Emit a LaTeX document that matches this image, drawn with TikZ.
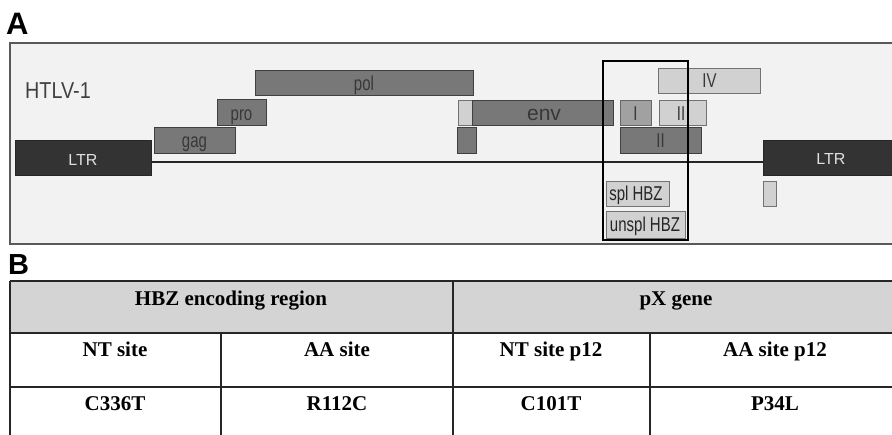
\documentclass[tikz,border=0pt]{standalone}
\usepackage{fontspec}
\setmainfont{Liberation Serif}
\setsansfont{Liberation Sans}
\newfontfamily\etroite[FakeStretch=0.75]{Liberation Sans}
\newfontfamily\moinsetroite[FakeStretch=0.86]{Liberation Sans}
\begin{document}
\begin{tikzpicture}[x=1pt,y=-1pt,
    fonce/.style={draw=black!85, fill=black!80, line width=1pt},
    moyen/.style={draw=black!75, fill=black!53, line width=1pt},
    clair/.style={draw=black!60, fill=black!37, line width=1pt},
    pale/.style={draw=black!55, fill=black!18, line width=1pt},
    etiq/.style={font=\etroite\fontsize{20}{20}\selectfont, text=black!78, inner sep=0pt, anchor=base},
    ltr/.style={font=\sffamily\fontsize{16}{16}\selectfont, text=black!12, inner sep=0pt, anchor=base},
    trait/.style={black!85, line width=1.4pt},
    tabtxt/.style={font=\bfseries\fontsize{21}{21}\selectfont, inner sep=0pt, anchor=base}]
    \useasboundingbox (0,0) rectangle (892,435);
    \clip (0,0) rectangle (892,435);

    % Panneau A
    \node[font=\sffamily\bfseries\fontsize{31}{31}\selectfont, anchor=base west, inner sep=0pt] (lettreA) at (6,35) {A};
    \draw[draw=black!65, fill=black!5, line width=2pt] (10,43) rectangle (897,244);
    \node[font=\moinsetroite\fontsize{23}{23}\selectfont, text=black!75, anchor=base west, inner sep=0pt] (htlv) at (25,99) {HTLV-1};

    % Ligne du genome
    \coordinate (ligneG) at (151,162);
    \coordinate (ligneD) at (763,162);
    \draw[black!85, line width=1.5pt] (ligneG) -- (ligneD);

    % LTR
    \draw[fonce] (15,141) rectangle (151,176);
    \node[ltr] (ltrG) at (83,166) {LTR};
    \draw[fonce] (763,141) rectangle (900,176);
    \node[ltr] (ltrD) at (831,165) {LTR};

    % gag, pro, pol
    \draw[moyen] (154,128) rectangle (235,154);
    \node[etiq] (gag) at (194.5,148) {gag};
    \draw[moyen] (217,100) rectangle (266,126);
    \node[etiq] (pro) at (241.5,121) {pro};
    \draw[moyen] (255,71) rectangle (473,96);
    \node[etiq] (pol) at (364,91) {pol};

    % env
    \draw[pale] (458,101) rectangle (472,126);
    \draw[moyen] (472,101) rectangle (613,126);
    \node[etiq, font=\sffamily\fontsize{21}{21}\selectfont] (env) at (544,121) {env};
    \draw[moyen] (457,128) rectangle (476,154);

    % region pX
    \draw[clair] (620,101) rectangle (651,126);
    \node[etiq] (orfI) at (635.5,121) {I};
    \draw[pale] (659,101) rectangle (706,126);
    \node[etiq] (orfII) at (681,121) {II};
    \draw[pale] (658,69) rectangle (760,94);
    \node[etiq] (orfIV) at (709.5,88) {IV};
    \draw[moyen] (620,128) rectangle (701,154);
    \node[etiq] (orfIIb) at (660.5,148) {II};

    % HBZ
    \draw[pale] (606,182) rectangle (669,207);
    \node[etiq, text=black!85] (splhbz) at (636,201) {spl HBZ};
    \draw[pale] (606,212) rectangle (685,239);
    \node[etiq, text=black!85] (unsplhbz) at (645,232) {unspl HBZ};
    \draw[pale] (763,182) rectangle (776,207);

    % Cadre autour de HBZ
    \draw[black, line width=2pt] (603,61) rectangle (688,240);

    % Panneau B
    \node[font=\sffamily\bfseries\fontsize{29}{29}\selectfont, anchor=base west, inner sep=0pt] (lettreB) at (8,275) {B};
    \fill[black!17] (10,281) rectangle (892,333);
    \draw[trait] (10,281) -- (892,281);
    \draw[trait] (10,333) -- (892,333);
    \draw[trait] (10,387) -- (892,387);
    \draw[trait] (10,281) -- (10,435);
    \draw[trait] (453,281) -- (453,435);
    \draw[trait] (221,333) -- (221,435);
    \draw[trait] (650,333) -- (650,435);

    \node[tabtxt] (hbz) at (231,306) {HBZ encoding region};
    \node[tabtxt] (px) at (676,306) {pX gene};
    \node[tabtxt] (ntsite) at (115,357) {NT site};
    \node[tabtxt] (aasite) at (337,357) {AA site};
    \node[tabtxt] (ntp) at (551,357) {NT site p12};
    \node[tabtxt] (aap) at (775,357) {AA site p12};
    \node[tabtxt] (nt1) at (115,411) {C336T};
    \node[tabtxt] (aa1) at (337,411) {R112C};
    \node[tabtxt] (nt2) at (551,411) {C101T};
    \node[tabtxt] (aa2) at (775,411) {P34L};
\end{tikzpicture}
\end{document}
